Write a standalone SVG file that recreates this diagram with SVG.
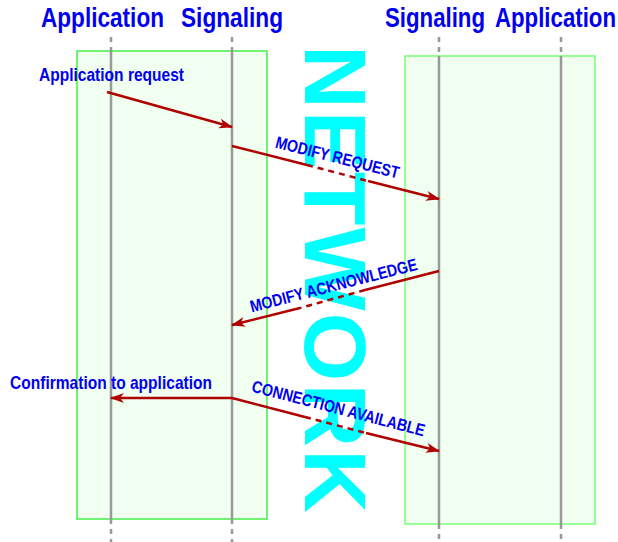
<svg xmlns="http://www.w3.org/2000/svg" width="618" height="542" viewBox="0 0 618 542">
<style>
.box{fill:#f0fff0;stroke:#44ee44;stroke-width:1.5}
.life{stroke:#999;stroke-width:2.5;fill:none}
.lifed{stroke:#999;stroke-width:2.5;fill:none;stroke-dasharray:5,5}
.hdr{font-family:"Liberation Sans",Arial,sans-serif;font-weight:bold;font-size:28px;fill:#0000ee}
.lbl{font-family:"Liberation Sans",Arial,sans-serif;font-weight:bold;font-size:19px;fill:#0000ee}
.msg{font-family:"Liberation Sans",Arial,sans-serif;font-weight:bold;font-size:17px;fill:#0000ee}
.arr{stroke:#b00000;stroke-width:2.5;fill:none}
.arrd{stroke:#b00000;stroke-width:2.5;fill:none;stroke-dasharray:6,5}
.net{font-family:"Liberation Sans",Arial,sans-serif;font-weight:bold;font-size:88px;fill:#00ffff;letter-spacing:2.2px}
</style>
<defs>
<marker id="ah" markerUnits="userSpaceOnUse" markerWidth="16" markerHeight="12" refX="13" refY="5" orient="auto">
<path d="M0,0 L14,5 L0,10 L4,5 Z" fill="#b00000"/>
</marker>
</defs>
<g id="headers">
<text class="hdr" x="41" y="27" textLength="123" lengthAdjust="spacingAndGlyphs">Application</text>
<text class="hdr" x="181" y="27" textLength="102" lengthAdjust="spacingAndGlyphs">Signaling</text>
<text class="hdr" x="385" y="27" textLength="100" lengthAdjust="spacingAndGlyphs">Signaling</text>
<text class="hdr" x="495" y="27" textLength="121" lengthAdjust="spacingAndGlyphs">Application</text>
</g>
<g id="left-side">
<rect class="box" x="77" y="51" width="190" height="468"/>
</g>
<g id="right-side">
<rect class="box" x="405" y="56" width="190" height="468" style="stroke:#77ff77"/>
</g>
<g id="lifelines">
<path class="lifed" d="M111,37 V51 M232,37 V51 M439,37 V56 M561,37 V56"/>
<path class="life" d="M111,51 V519 M232,51 V519 M439,56 V524 M561,56 V524"/>
<path class="lifed" d="M111,519 V542 M232,519 V542 M439,524 V542 M561,524 V542"/>
</g>
<g id="network">
<text class="net" transform="translate(305,45) rotate(90)" x="0" y="0">NETWORK</text>
</g>
<g id="connectors">
<path class="arr" d="M107,92 L232,127" marker-end="url(#ah)"/>
<path class="arr" d="M232,146 L307,165"/>
<path class="arrd" d="M307,165 L368,181"/>
<path class="arr" d="M368,181 L439,199" marker-end="url(#ah)"/>
<path class="arr" d="M439,271 L365,290"/>
<path class="arrd" d="M365,290 L300,308"/>
<path class="arr" d="M300,308 L232,325" marker-end="url(#ah)"/>
<path class="arr" d="M232,398 L111,398" marker-end="url(#ah)"/>
<path class="arr" d="M232,398 L305,417"/>
<path class="arrd" d="M305,417 L366,433"/>
<path class="arr" d="M366,433 L439,451" marker-end="url(#ah)"/>
</g>
<g id="labels">
<text class="lbl" x="39" y="81" textLength="145" lengthAdjust="spacingAndGlyphs">Application request</text>
<text class="lbl" x="10" y="389" textLength="202" lengthAdjust="spacingAndGlyphs">Confirmation to application</text>
<text class="msg" text-anchor="middle" transform="translate(336,163) rotate(14.2)" x="0" y="0" textLength="127" lengthAdjust="spacingAndGlyphs">MODIFY REQUEST</text>
<text class="msg" text-anchor="middle" transform="translate(335,291) rotate(-14.4)" x="0" y="0" textLength="172" lengthAdjust="spacingAndGlyphs">MODIFY ACKNOWLEDGE</text>
<text class="msg" text-anchor="middle" transform="translate(337,414) rotate(14.6)" x="0" y="0" textLength="178" lengthAdjust="spacingAndGlyphs">CONNECTION AVAILABLE</text>
</g>
</svg>
